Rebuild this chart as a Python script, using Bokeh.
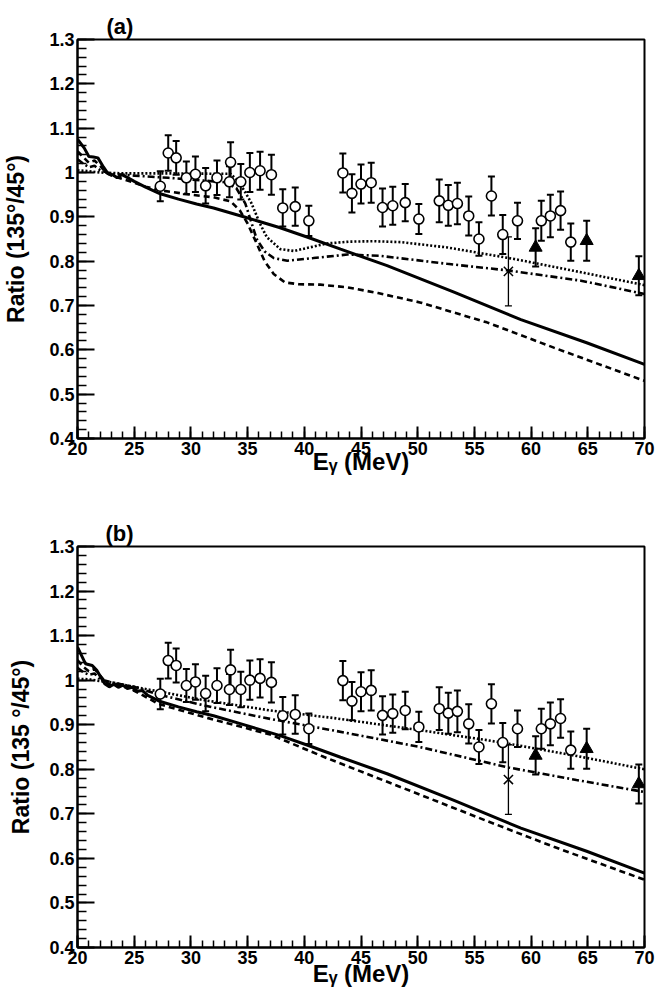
from bokeh.plotting import figure
from bokeh.models import Range1d, FixedTicker, Whisker, TeeHead, ColumnDataSource
from bokeh.layouts import column
from bokeh.embed import file_html
from bokeh.resources import INLINE

FONT = "Liberation Sans"

# ---------------- data ----------------
exp_x = [27.3, 28.0, 28.7, 29.6, 30.4, 31.3, 32.3, 33.5, 33.4, 34.4, 35.2, 36.1, 37.1,
         38.1, 39.2, 40.4, 43.4, 44.2, 45.0, 45.9, 46.9, 47.8, 48.9, 50.1, 51.9, 52.7,
         53.5, 54.5, 55.4, 56.5, 57.5, 58.8, 60.9, 61.7, 62.6, 63.5]
exp_y = [0.969, 1.044, 1.033, 0.988, 0.996, 0.970, 0.988, 1.023, 0.979, 0.979, 1.000, 1.004, 0.995,
         0.920, 0.923, 0.891, 0.999, 0.953, 0.974, 0.977, 0.921, 0.925, 0.932, 0.895, 0.936, 0.926,
         0.930, 0.902, 0.850, 0.947, 0.860, 0.891, 0.891, 0.902, 0.914, 0.843]
exp_err = [0.034, 0.040, 0.038, 0.037, 0.040, 0.040, 0.039, 0.045, 0.035, 0.040, 0.044, 0.043, 0.045,
           0.042, 0.043, 0.034, 0.044, 0.043, 0.044, 0.045, 0.043, 0.043, 0.042, 0.034, 0.048, 0.046,
           0.047, 0.044, 0.038, 0.044, 0.044, 0.041, 0.045, 0.048, 0.043, 0.042]

tri_x = [60.4, 64.9, 69.5]
tri_y = [0.831, 0.846, 0.767]
tri_err = [0.043, 0.045, 0.044]

crs_x = [58.0]
crs_y = [0.777]
crs_err = [0.078]

# ---------------- panel (a) curves ----------------
a_solid_x = [20.0, 20.6, 21.0, 21.4, 21.8, 22.3, 22.7, 23.1, 23.5, 23.9, 24.3, 25.0, 26.0, 27.3, 28.9,
             30.5, 32.0, 34.8, 37.8, 40.3, 43.2, 47.3, 53.2, 59.1, 64.9, 70.0]
a_solid_y = [1.075, 1.055, 1.036, 1.035, 1.033, 1.012, 0.997, 0.995, 0.988, 0.995, 0.990, 0.980, 0.967,
             0.952, 0.940, 0.929, 0.920, 0.899, 0.876, 0.854, 0.827, 0.790, 0.730, 0.668, 0.616, 0.567]

a_dash_x = [20.0, 20.5, 21.0, 21.5, 22.0, 22.5, 23.0, 24.4, 26.0, 27.5, 30.0, 32.0, 33.5, 34.3, 35.0,
            35.8, 36.5, 37.3, 38.3, 39.5, 41.4, 43.8, 46.5, 50.2, 56.1, 62.0, 70.0]
a_dash_y = [1.048, 1.035, 1.022, 1.027, 1.015, 1.000, 0.993, 0.982, 0.968, 0.959, 0.950, 0.944, 0.935,
            0.915, 0.885, 0.840, 0.800, 0.771, 0.752, 0.748, 0.747, 0.741, 0.728, 0.707, 0.662, 0.605, 0.530]

a_dot_x = [20.0, 21.0, 22.0, 24.0, 28.0, 33.5, 34.2, 34.8, 35.3, 36.1, 36.7, 37.9, 39.1, 40.8, 42.0,
           44.0, 46.1, 48.5, 52.6, 58.5, 64.4, 70.0]
a_dot_y = [1.005, 1.003, 1.000, 0.998, 0.998, 0.997, 0.980, 0.955, 0.933, 0.884, 0.854, 0.827, 0.823,
           0.833, 0.840, 0.844, 0.845, 0.843, 0.831, 0.805, 0.775, 0.746]

a_dd_x = [20.0, 20.5, 21.0, 21.5, 22.0, 23.0, 25.0, 28.0, 31.0, 33.0, 34.0, 34.8, 35.8, 36.5, 37.3,
          38.5, 40.8, 43.8, 46.7, 52.6, 58.0, 64.4, 70.0]
a_dd_y = [1.030, 1.020, 1.012, 1.015, 1.005, 0.997, 0.993, 0.988, 0.982, 0.978, 0.965, 0.930, 0.850,
          0.822, 0.807, 0.801, 0.807, 0.815, 0.812, 0.794, 0.779, 0.756, 0.726]

# ---------------- panel (b) curves ----------------
b_solid_x = [20.0, 20.7, 21.3, 21.7, 22.4, 22.8, 23.2, 23.6, 24.0, 24.4, 24.8, 25.3, 25.7, 26.2, 27.3,
             28.9, 30.5, 32.0, 34.8, 37.8, 40.3, 43.2, 47.3, 53.2, 59.1, 64.9, 70.0]
b_solid_y = [1.074, 1.037, 1.033, 1.022, 0.992, 0.985, 0.991, 0.984, 0.989, 0.981, 0.984, 0.975, 0.977,
             0.966, 0.952, 0.940, 0.929, 0.920, 0.899, 0.876, 0.854, 0.827, 0.790, 0.730, 0.668, 0.616, 0.567]

b_dash_x = [20.0, 20.5, 21.0, 21.5, 22.0, 22.5, 23.0, 23.5, 24.0, 24.5, 25.0, 25.5, 27.1, 31.2, 37.0,
            41.7, 47.0, 56.2, 62.0, 70.0]
b_dash_y = [1.045, 1.030, 1.020, 1.025, 1.010, 0.995, 0.988, 0.992, 0.984, 0.986, 0.976, 0.970, 0.947,
            0.917, 0.878, 0.828, 0.775, 0.683, 0.626, 0.552]

b_dot_x = [20.0, 21.0, 22.0, 23.0, 25.0, 27.1, 31.2, 37.0, 42.6, 50.4, 56.2, 59.2, 64.0, 70.0]
b_dot_y = [1.003, 1.002, 0.998, 0.995, 0.985, 0.975, 0.955, 0.932, 0.915, 0.887, 0.865, 0.852, 0.830, 0.800]

b_dd_x = [20.0, 20.5, 21.0, 21.5, 22.0, 23.0, 25.0, 27.1, 31.2, 37.0, 42.6, 50.0, 58.0, 64.0, 70.0]
b_dd_y = [1.028, 1.018, 1.012, 1.015, 1.002, 0.995, 0.985, 0.968, 0.943, 0.913, 0.887, 0.851, 0.804, 0.776, 0.749]

x_major = [20, 25, 30, 35, 40, 45, 50, 55, 60, 65, 70]
y_major = [0.4, 0.5, 0.6, 0.7, 0.8, 0.9, 1.0, 1.1, 1.2, 1.3]
y_major_labels = ["0.4", "0.5", "0.6", "0.7", "0.8", "0.9", "1", "1.1", "1.2", "1.3"]

x_label = "E\u1d67 (MeV)"


def make_panel(tag, curves, height, b_left, b_top, b_bottom, ylab_text, ylab_standoff,
               xlab_standoff, tag_offset):
    p = figure(width=655, height=height, output_backend="svg", toolbar_location=None,
               x_range=Range1d(20, 70), y_range=Range1d(0.4, 1.3),
               min_border_left=b_left, min_border_right=11, min_border_top=b_top,
               min_border_bottom=b_bottom, title=tag)
    p.background_fill_color = "white"
    p.border_fill_color = "white"
    p.grid.visible = False
    p.outline_line_color = "black"
    p.outline_line_width = 2
    p.outline_line_alpha = 1

    p.title.text_font = FONT
    p.title.text_font_style = "bold"
    p.title.text_font_size = "22px"
    p.title.text_color = "black"
    p.title.align = "left"
    p.title.offset = tag_offset
    p.title.standoff = 1

    p.xaxis.ticker = FixedTicker(ticks=x_major, minor_ticks=list(range(20, 71)))
    p.yaxis.ticker = FixedTicker(ticks=y_major,
                                 minor_ticks=[round(0.4 + 0.02 * i, 2) for i in range(46)])
    p.yaxis.major_label_overrides = dict(zip(y_major, y_major_labels))

    for ax in (p.xaxis[0], p.yaxis[0]):
        ax.axis_line_width = 2
        ax.axis_line_color = "black"
        ax.major_tick_line_width = 2
        ax.minor_tick_line_width = 1.5
        ax.major_tick_out = 0
        ax.minor_tick_out = 0
        ax.major_label_text_font = FONT
        ax.major_label_text_font_style = "bold"
        ax.major_label_text_font_size = "18px"
        ax.major_label_text_color = "black"
        ax.major_label_standoff = 3
        ax.axis_label_text_font = FONT
        ax.axis_label_text_font_style = "bold"
        ax.axis_label_text_color = "black"
    p.yaxis.major_tick_in = 17
    p.yaxis.minor_tick_in = 9
    p.xaxis.major_tick_in = 12
    p.xaxis.minor_tick_in = 7

    p.xaxis.axis_label = x_label
    p.xaxis.axis_label_text_font_size = "24px"
    p.xaxis.axis_label_standoff = xlab_standoff
    p.yaxis.axis_label = ylab_text
    p.yaxis.axis_label_text_font_size = "23px"
    p.yaxis.axis_label_standoff = ylab_standoff

    styles = [(None, 3), ("6 4", 2.6), ("2 2", 2.6), ("7 3 2 3", 2.6)]
    for (dash, lw), (cx, cy) in zip(styles, curves):
        kw = dict(line_color="black", line_width=lw)
        if dash:
            kw["line_dash"] = dash
        p.line(cx, cy, **kw)

    # error bars
    src_c = ColumnDataSource(dict(x=exp_x, y=exp_y,
                                  up=[a + b for a, b in zip(exp_y, exp_err)],
                                  lo=[a - b for a, b in zip(exp_y, exp_err)]))
    src_t = ColumnDataSource(dict(x=tri_x, y=tri_y,
                                  up=[a + b for a, b in zip(tri_y, tri_err)],
                                  lo=[a - b for a, b in zip(tri_y, tri_err)]))
    src_x = ColumnDataSource(dict(x=crs_x, y=crs_y,
                                  up=[a + b for a, b in zip(crs_y, crs_err)],
                                  lo=[a - b for a, b in zip(crs_y, crs_err)]))
    for src, lw in ((src_c, 2), (src_t, 2), (src_x, 1.3)):
        p.add_layout(Whisker(source=src, base="x", upper="up", lower="lo",
                             line_color="black", line_width=lw,
                             upper_head=TeeHead(size=7, line_width=lw, line_color="black"),
                             lower_head=TeeHead(size=7, line_width=lw, line_color="black")))

    p.scatter("x", "y", source=src_c, marker="circle", size=10, fill_color="white",
              line_color="black", line_width=1.6)
    p.scatter("x", "y", source=src_t, marker="triangle", size=13, fill_color="black",
              line_color="black")
    p.scatter("x", "y", source=src_x, marker="x", size=13, line_color="black", line_width=1.5)
    return p


pa = make_panel("(a)",
                [(a_solid_x, a_solid_y), (a_dash_x, a_dash_y), (a_dot_x, a_dot_y), (a_dd_x, a_dd_y)],
                height=500, b_left=77, b_top=39, b_bottom=62,
                ylab_text="Ratio (135\u00b0/45\u00b0)", ylab_standoff=17, xlab_standoff=-10,
                tag_offset=29)

pb = make_panel("(b)",
                [(b_solid_x, b_solid_y), (b_dash_x, b_dash_y), (b_dot_x, b_dot_y), (b_dd_x, b_dd_y)],
                height=494, b_left=72, b_top=46, b_bottom=47,
                ylab_text="Ratio (135 \u00b0/45\u00b0)", ylab_standoff=12, xlab_standoff=-7,
                tag_offset=28)

layout = column(pa, pb)
open("out.html", "w").write(file_html(layout, INLINE))
